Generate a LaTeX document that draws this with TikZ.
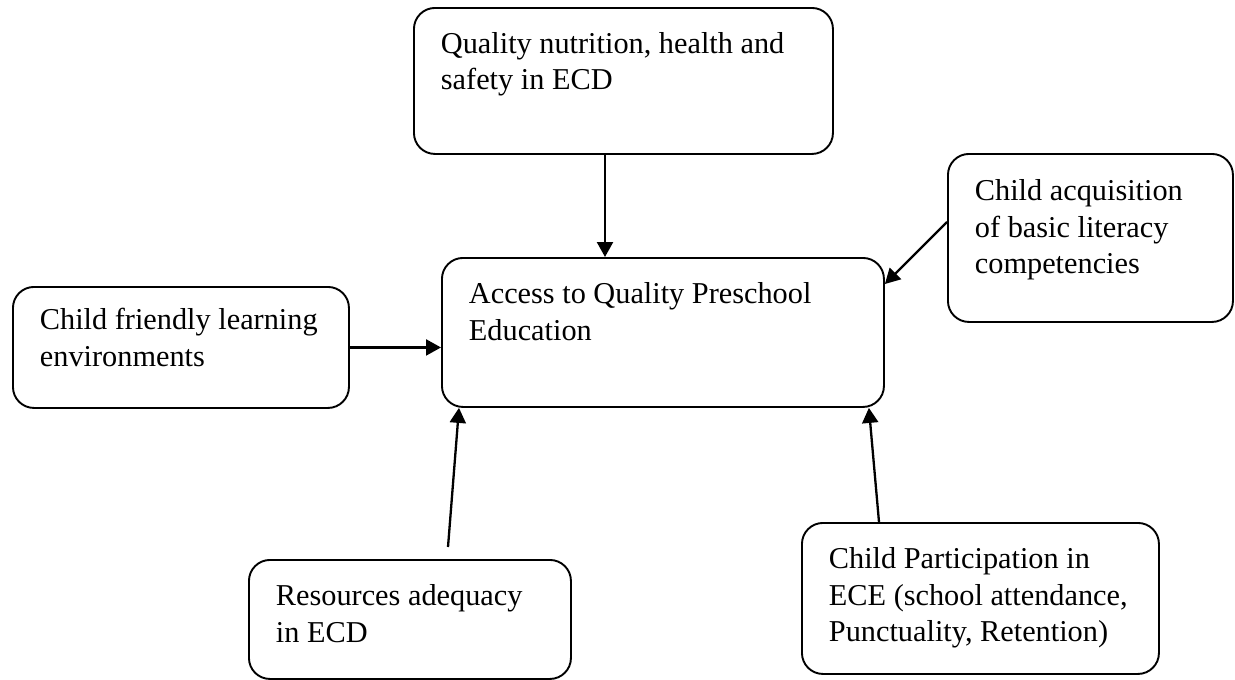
\documentclass[tikz,border=0pt]{standalone}
\usepackage{fontspec}
\setmainfont{Liberation Serif}
\usepackage{tikz}
\usetikzlibrary{arrows.meta,calc}
\newcommand{\boxtext}[4]{\parbox[c][#2][t]{#1}{\vspace*{#3}\hspace*{27pt}\begin{tabular}{@{}l@{}}#4\end{tabular}}}

\begin{document}
\begin{tikzpicture}[x=1pt, y=-1pt,
 rbox/.style={draw, line width=1.9pt, rounded corners=21pt, anchor=north west, inner sep=0pt,
  font=\fontsize{30.3}{36.5}\selectfont},
 arr/.style={-{Triangle[length=15pt,width=16pt]}, line width=2.3pt}]
 \useasboundingbox (0,0) rectangle (1235,680);
 \node[rbox] (qual) at (413,7) {\boxtext{419pt}{146pt}{20pt}{Quality nutrition, health and\\safety in ECD}};
 \node[rbox] (access) at (441,257) {\boxtext{442pt}{149pt}{20pt}{Access to Quality Preschool\\Education}};
 \node[rbox] (env) at (12,286) {\boxtext{336pt}{121pt}{17pt}{Child friendly learning\\environments}};
 \node[rbox] (lit) at (947,153) {\boxtext{285pt}{168pt}{21pt}{Child acquisition\\of basic literacy\\competencies}};
 \node[rbox] (res) at (248,559) {\boxtext{322pt}{119pt}{20pt}{Resources adequacy\\in ECD}};
 \node[rbox] (part) at (801,522) {\boxtext{357pt}{151pt}{20pt}{Child Participation in\\ECE (school attendance,\\Punctuality, Retention)}};
 % connectors
 \coordinate (qtail) at ([xshift=192pt]qual.south west);
 \draw[arr] (qtail) -- (qtail |- access.north);
 \draw[arr] (env.east) -- (env.east -| access.west);
 \draw[arr] ([yshift=16pt]lit.west) -- ([yshift=-27pt]access.north east);
 \draw[arr] ([xshift=200pt,yshift=12pt]res.north west) -- ([xshift=18pt]access.south west);
 \draw[arr] ([xshift=78pt]part.north west) -- ([xshift=-16pt]access.south east);
\end{tikzpicture}
\end{document}
